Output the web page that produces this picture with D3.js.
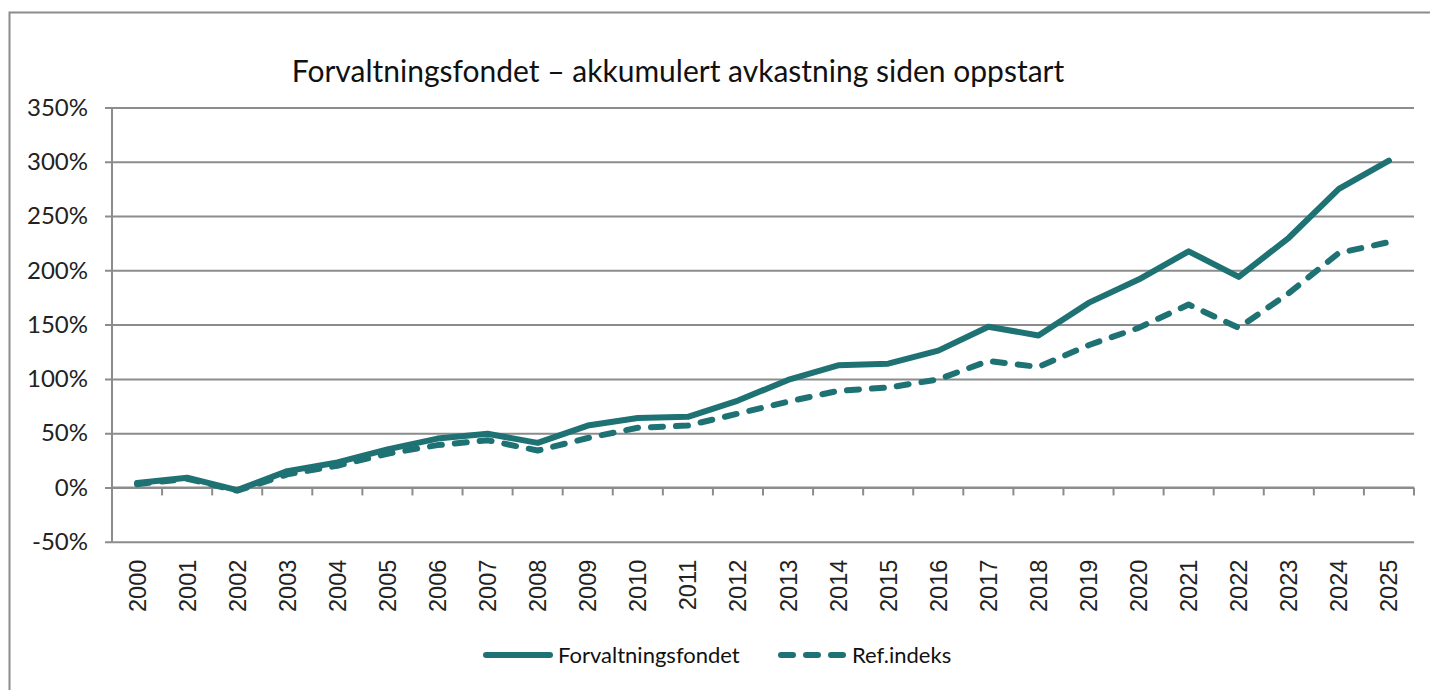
<!DOCTYPE html>
<html>
<head>
<meta charset="utf-8">
<script src="https://cdn.jsdelivr.net/npm/d3@7"></script>
<style>
  body { margin: 0; background: #fff; }
  svg { display: block; }
</style>
</head>
<body>
<div id="chart"></div>
<script>
// data
var years = ["2000","2001","2002","2003","2004","2005","2006","2007","2008","2009","2010","2011","2012",
  "2013","2014","2015","2016","2017","2018","2019","2020","2021","2022","2023","2024","2025"];
var fondet = [4, 9, -2.5, 15, 23, 35, 45, 49.5, 41, 57, 64, 65, 80,
  99, 112.5, 114, 126, 148, 140, 170, 191.5, 217.5, 194, 230, 275, 301];
var refIndeks = [3, 8, -3, 12, 20, 31, 39, 43.5, 34, 45.5, 55, 57, 68,
  79, 89, 92, 99.5, 116.5, 111, 131, 147, 168.5, 147, 179, 216, 226];
var yTicks = [-50, 0, 50, 100, 150, 200, 250, 300, 350];
var seriesNames = ["Forvaltningsfondet", "Ref.indeks"];

var W = 1430, H = 690;
var plotLeft = 112, plotRight = 1414, plotTop = 107.5, plotBottom = 541.7;
var teal = "#1f7273", grey = "#8c8c8c";

var svg = d3.select("#chart").append("svg")
  .attr("width", W)
  .attr("height", H);

svg.append("rect").attr("width", W).attr("height", H).style("fill", "#fff");

// outer chart border (runs off right/bottom edge)
svg.append("rect")
  .attr("x", 9.5).attr("y", 12.5)
  .attr("width", 1500).attr("height", 800)
  .style("fill", "none").style("stroke", grey).style("stroke-width", "2px");

var x = d3.scaleBand().domain(years).range([plotLeft, plotRight]);
var y = d3.scaleLinear().domain([-50, 350]).range([plotBottom, plotTop]);

// gridlines + y labels
var yAxis = svg.append("g")
  .attr("transform", "translate(" + plotRight + ",0)")
  .call(d3.axisLeft(y).tickValues(yTicks).tickSize(plotRight - 105).tickPadding(17)
    .tickFormat(function(d) { return d + "%"; }));
yAxis.select(".domain").remove();
yAxis.selectAll("line").style("stroke", grey).style("stroke-width", "2px");
yAxis.selectAll("text")
  .style("font-family", "Lato, 'Open Sans', sans-serif")
  .style("font-size", "24px")
  .style("fill", "#222");

// vertical axis line
svg.append("line")
  .attr("x1", plotLeft).attr("x2", plotLeft)
  .attr("y1", plotTop).attr("y2", plotBottom)
  .style("stroke", grey).style("stroke-width", "2px");

// category axis at 0% with tick marks at category boundaries
svg.append("line")
  .attr("x1", plotLeft).attr("x2", plotRight)
  .attr("y1", y(0)).attr("y2", y(0))
  .style("stroke", grey).style("stroke-width", "2px");

var bounds = years.map(function(d) { return x(d); }).concat([plotRight]);
bounds.forEach(function(b) {
  svg.append("line")
    .attr("x1", b).attr("x2", b)
    .attr("y1", y(0)).attr("y2", y(0) + 8)
    .style("stroke", grey).style("stroke-width", "2px");
});

// year labels below the plot
var xAxis = svg.append("g")
  .attr("transform", "translate(0," + plotBottom + ")")
  .call(d3.axisBottom(x).tickSize(0));
xAxis.select(".domain").remove();
xAxis.selectAll("text")
  .attr("transform", "rotate(-90)")
  .attr("x", -18)
  .attr("y", 0)
  .attr("dy", "0.36em")
  .attr("text-anchor", "end")
  .style("font-family", "'Liberation Sans', Arial, sans-serif")
  .style("font-size", "23.5px")
  .style("fill", "#222");

// lines
var line = d3.line()
  .x(function(d, i) { return x(years[i]) + x.bandwidth() / 2; })
  .y(function(d) { return y(d); });

svg.append("path")
  .datum(refIndeks)
  .attr("d", line)
  .style("fill", "none")
  .style("stroke", teal)
  .style("stroke-width", "6px")
  .style("stroke-linecap", "round")
  .style("stroke-linejoin", "round")
  .style("stroke-dasharray", "12,13");

svg.append("path")
  .datum(fondet)
  .attr("d", line)
  .style("fill", "none")
  .style("stroke", teal)
  .style("stroke-width", "6px")
  .style("stroke-linecap", "round")
  .style("stroke-linejoin", "round");

// title
svg.append("text")
  .text("Forvaltningsfondet – akkumulert avkastning siden oppstart")
  .attr("x", 678)
  .attr("y", 82)
  .attr("text-anchor", "middle")
  .style("font-family", "Lato, 'Open Sans', sans-serif")
  .style("font-size", "30px")
  .style("fill", "#111");

// legend
var legend = [
  {name: seriesNames[0], x1: 486, x2: 550, tx: 558, dash: null},
  {name: seriesNames[1], x1: 781, x2: 843, tx: 852, dash: "12,13"}
];
legend.forEach(function(d) {
  svg.append("line")
    .attr("x1", d.x1).attr("x2", d.x2)
    .attr("y1", 655).attr("y2", 655)
    .style("stroke", teal)
    .style("stroke-width", "6px")
    .style("stroke-linecap", "round")
    .style("stroke-dasharray", d.dash);
  svg.append("text")
    .text(d.name)
    .attr("x", d.tx)
    .attr("y", 655)
    .attr("dy", "0.35em")
    .style("font-family", "Lato, 'Open Sans', sans-serif")
    .style("font-size", "22px")
    .style("fill", "#111");
});
</script>
</body>
</html>
